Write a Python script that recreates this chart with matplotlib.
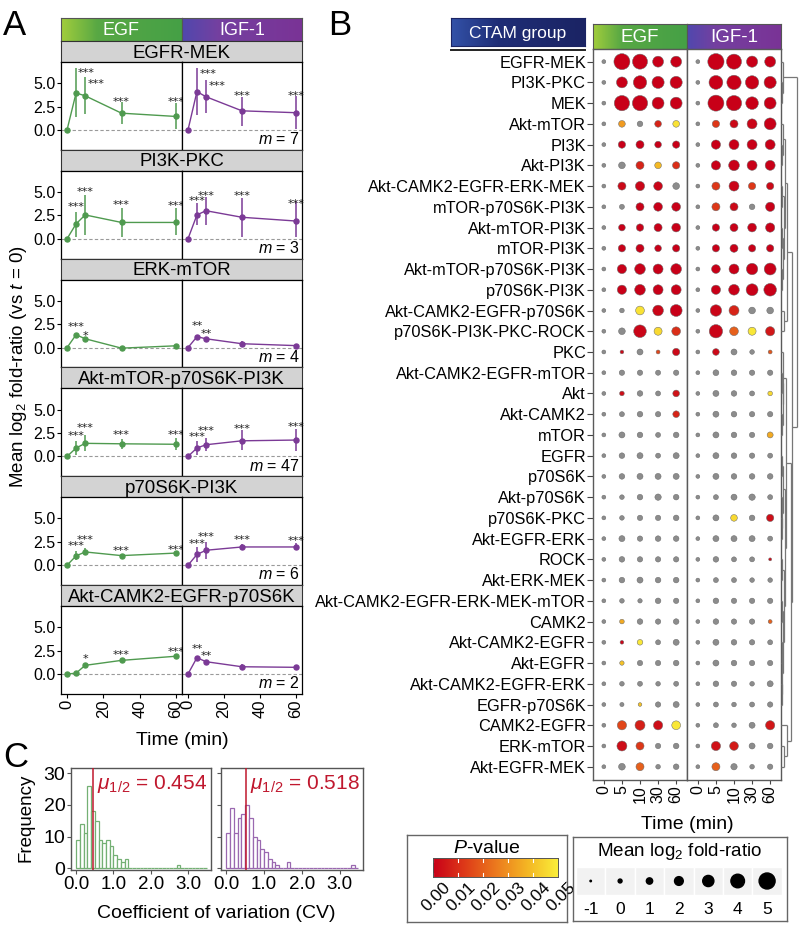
import numpy as np
import matplotlib
matplotlib.use("Agg")
import matplotlib.pyplot as plt
from matplotlib.colors import LinearSegmentedColormap
from matplotlib.patches import Rectangle

plt.rcParams['font.family'] = ['Liberation Sans', 'DejaVu Sans']
plt.rcParams['mathtext.fontset'] = 'custom'
plt.rcParams['mathtext.rm'] = 'Liberation Sans'
plt.rcParams['mathtext.it'] = 'Liberation Sans:italic'
plt.rcParams['mathtext.bf'] = 'Liberation Sans:bold'

# ======================= DATA =======================
time_points = [0, 5, 10, 30, 60]
time_labels = ["0", "5", "10", "30", "60"]
stimuli = ["EGF", "IGF-1"]

# ---- Panel A ----
groups_A = ["EGFR-MEK", "PI3K-PKC", "ERK-mTOR", "Akt-mTOR-p70S6K-PI3K",
            "p70S6K-PI3K", "Akt-CAMK2-EGFR-p70S6K"]
m_counts = [7, 3, 4, 47, 6, 2]

egf_mean = [[0, 3.95, 3.65, 1.80, 1.45],
            [0, 1.60, 2.55, 1.75, 1.75],
            [0, 1.38, 0.95, -0.05, 0.20],
            [0, 0.90, 1.40, 1.35, 1.30],
            [0, 1.00, 1.42, 1.03, 1.30],
            [0, 0.10, 0.93, 1.46, 1.90]]
egf_lo = [[0, 1.40, 1.70, 0.60, 0.15],
          [0, 0.25, 0.40, 0.20, 0.40],
          [0, 1.25, 0.80, -0.15, 0.10],
          [0, 0.20, 0.60, 0.80, 0.70],
          [0, 0.55, 1.05, 0.85, 1.10],
          [0, 0.00, 0.80, 1.35, 1.80]]
egf_hi = [[0, 6.60, 5.60, 3.00, 2.90],
          [0, 2.90, 4.70, 3.30, 3.30],
          [0, 1.50, 1.10, 0.05, 0.30],
          [0, 1.60, 2.25, 1.90, 1.95],
          [0, 1.50, 1.85, 1.20, 1.50],
          [0, 0.20, 1.05, 1.55, 2.00]]
egf_stars = [["", "***", "***", "***", "***"],
             ["", "***", "***", "***", "***"],
             ["", "***", "*", "", ""],
             ["", "***", "***", "***", "***"],
             ["", "***", "***", "***", "***"],
             ["", "", "*", "***", "***"]]
# height of the significance labels (log2 units)
egf_star_y = [[0, 6.40, 5.25, 3.33, 3.30],
              [0, 3.74, 5.35, 3.92, 3.85],
              [0, 2.60, 1.60, 0, 0],
              [0, 2.50, 3.40, 2.67, 2.67],
              [0, 2.43, 3.10, 1.90, 2.00],
              [0, 0, 1.95, 2.34, 2.66]]

igf_mean = [[0, 4.10, 3.55, 2.05, 1.85],
            [0, 2.55, 3.00, 2.30, 1.90],
            [0, 1.17, 0.95, 0.42, 0.22],
            [0, 0.90, 1.25, 1.67, 1.75],
            [0, 1.15, 1.60, 1.95, 1.95],
            [0, 1.75, 1.32, 0.78, 0.72]]
igf_lo = [[0, 1.60, 1.80, 0.45, 0.10],
          [0, 1.50, 1.50, 0.25, 0.25],
          [0, 1.05, 0.85, 0.15, 0.10],
          [0, 0.15, 0.55, 0.65, 0.55],
          [0, 0.35, 0.70, 1.60, 1.60],
          [0, 1.65, 1.20, 0.50, 0.45]]
igf_hi = [[0, 6.60, 5.30, 3.50, 3.60],
          [0, 3.85, 4.50, 4.40, 4.00],
          [0, 1.30, 1.05, 0.70, 0.35],
          [0, 1.60, 1.95, 2.85, 2.95],
          [0, 1.90, 2.50, 2.30, 2.35],
          [0, 1.85, 1.45, 1.05, 1.00]]
igf_stars = [["", "***", "***", "***", "***"],
             ["", "***", "***", "***", "***"],
             ["", "**", "**", "", ""],
             ["", "***", "***", "***", "***"],
             ["", "***", "***", "***", "***"],
             ["", "**", "**", "", ""]]
igf_star_y = [[0, 6.35, 5.06, 4.00, 3.98],
              [0, 4.40, 4.95, 4.95, 4.06],
              [0, 2.66, 1.84, 0, 0],
              [0, 2.43, 3.07, 3.28, 3.50],
              [0, 2.67, 3.35, 3.00, 2.96],
              [0, 3.05, 2.30, 0, 0]]

# ---- Panel B ----
rows_B = ["EGFR-MEK", "PI3K-PKC", "MEK", "Akt-mTOR", "PI3K", "Akt-PI3K",
          "Akt-CAMK2-EGFR-ERK-MEK", "mTOR-p70S6K-PI3K", "Akt-mTOR-PI3K", "mTOR-PI3K",
          "Akt-mTOR-p70S6K-PI3K", "p70S6K-PI3K", "Akt-CAMK2-EGFR-p70S6K",
          "p70S6K-PI3K-PKC-ROCK", "PKC", "Akt-CAMK2-EGFR-mTOR", "Akt", "Akt-CAMK2",
          "mTOR", "EGFR", "p70S6K", "Akt-p70S6K", "p70S6K-PKC", "Akt-EGFR-ERK", "ROCK",
          "Akt-ERK-MEK", "Akt-CAMK2-EGFR-ERK-MEK-mTOR", "CAMK2", "Akt-CAMK2-EGFR",
          "Akt-EGFR", "Akt-CAMK2-EGFR-ERK", "EGFR-p70S6K", "CAMK2-EGFR", "ERK-mTOR",
          "Akt-EGFR-MEK"]

# mean log2 fold-ratio, EGF (columns = 0, 5, 10, 30, 60 min)
egf_fc = [[0, 5.0, 4.6, 2.9, 2.9], [0, 2.9, 3.9, 3.4, 3.4], [0, 4.7, 4.7, 3.3, 3.3],
          [0, 1.15, 0.7, 1.15, 1.15], [0, 1.4, 1.7, 1.15, 1.4], [0, 1.15, 1.7, 1.15, 1.4],
          [0, 1.7, 2.2, 2.0, 1.15], [0, 0.45, 1.7, 2.0, 2.0], [0, 1.15, 1.4, 1.7, 2.0],
          [0, 1.4, 1.7, 1.15, 1.4], [0, 2.2, 2.8, 2.5, 2.8], [0, 2.2, 2.8, 2.5, 2.5],
          [0, 0.3, 2.0, 2.8, 3.3], [0, 1.15, 3.6, 1.7, 2.0], [0, -0.1, 0.86, 0.0, 1.4],
          [0, 0.6, 0.6, 0.5, 0.6], [0, 0.3, 0.7, 0.45, 1.15], [0, 0.45, 0.7, 0.6, 1.15],
          [0, 0.86, 0.7, 0.45, 0.7], [0, 0.7, 0.86, 0.45, 0.86], [0, 0.7, 0.86, 0.86, 0.86],
          [0, 0.3, 0.7, 1.0, 0.7], [0, 0.3, 0.6, 0.6, 0.7], [0, 0.86, 0.6, 0.7, 0.7],
          [0, 0.7, 0.6, 0.6, 0.6], [0, 0.7, 0.86, 0.7, 0.7], [0, 0.3, 0.2, 0.7, 0.6],
          [0, 0.3, 0.7, 0.6, 0.7], [0, -0.1, 0.7, 0.45, 0.86], [0, 0.2, 0.6, 0.6, 0.7],
          [0, 0.3, 0.45, 0.3, 0.45], [0, 0.1, -0.1, 0.6, 0.86], [0, 2.2, 2.5, 2.2, 2.0],
          [0, 2.5, 1.7, 0.6, 0.7], [0, 1.15, 1.7, 0.3, 0.7]]
# P-values, EGF (1 = not significant)
egf_p = [[1, 0, 0, 0, 0], [1, 0, 0, 0, 0], [1, 0, 0, 0, 0],
         [1, 0.032, 1, 0.008, 0.047], [1, 0, 0, 0, 0], [1, 1, 0.008, 0.038, 0.010],
         [1, 0.002, 0.001, 0.001, 1], [1, 1, 0, 0, 0], [1, 0, 0, 0, 0],
         [1, 0, 0, 0, 0], [1, 0, 0, 0, 0], [1, 0, 0, 0, 0],
         [1, 1, 0.047, 0.001, 0], [1, 1, 0.001, 0.045, 0.010], [1, 0.002, 1, 0.015, 0.002],
         [1, 1, 1, 1, 1], [1, 0.003, 1, 1, 0.004], [1, 1, 1, 1, 0.008],
         [1, 1, 1, 1, 1], [1, 1, 1, 1, 1], [1, 1, 1, 1, 1],
         [1, 1, 1, 1, 1], [1, 1, 1, 1, 1], [1, 1, 1, 1, 1],
         [1, 1, 1, 1, 1], [1, 1, 1, 1, 1], [1, 1, 1, 1, 1],
         [1, 0.035, 1, 1, 1], [1, 0.001, 0.048, 1, 1], [1, 0.040, 1, 1, 1],
         [1, 1, 1, 1, 1], [1, 1, 0.040, 1, 1], [1, 0.015, 0.007, 0.003, 0.048],
         [1, 0.003, 0.012, 1, 1], [1, 1, 0.020, 1, 1]]

igf_fc = [[0, 5.1, 4.6, 3.0, 2.9], [0, 4.1, 4.3, 3.9, 3.4], [0, 5.0, 4.7, 3.6, 3.3],
          [0, 1.4, 1.7, 2.5, 3.3], [0, 2.2, 2.5, 2.5, 2.5], [0, 2.2, 2.8, 2.5, 2.5],
          [0, 1.7, 2.5, 1.4, 1.4], [0, 1.7, 1.7, 0.7, 2.2], [0, 1.4, 1.7, 2.0, 2.2],
          [0, 1.4, 1.7, 1.4, 1.4], [0, 2.0, 2.5, 3.1, 3.3], [0, 2.2, 2.8, 3.3, 3.6],
          [0, 3.1, 2.5, 1.15, 1.15], [0, 3.9, 2.0, 1.7, 2.2], [0, 1.15, 0.86, 0.3, 0.0],
          [0, 0.8, 0.7, 0.6, 0.6], [0, 0.86, 0.7, 0.45, 0.3], [0, 0.86, 0.7, 0.6, 0.6],
          [0, 0.86, 0.7, 0.6, 0.86], [0, 0.86, 0.7, 0.6, 0.45], [0, 0.86, 0.7, 0.7, 0.7],
          [0, 0.45, 0.86, 1.0, 0.45], [0, 0.86, 1.15, 0.7, 1.4], [0, 0.86, 0.86, 0.86, 0.45],
          [0, 0.7, 0.45, 0.45, -0.4], [0, 0.45, 0.45, 0.3, 0.3], [0, 0.7, 0.6, 0.6, 0.6],
          [0, 0.7, 0.6, 0.6, 0.0], [0, 0.86, 0.7, 0.6, 0.45], [0, 0.86, 0.7, 0.6, 0.6],
          [0, 0.7, 0.6, 0.3, 0.86], [0, 0.45, 0.3, 0.45, 0.6], [0, 0.45, 0.3, 0.86, 2.2],
          [0, 2.2, 2.0, 0.86, 0.7], [0, 1.7, 1.0, 0.3, 0.6]]
igf_p = [[1, 0, 0, 0, 0], [1, 0, 0, 0, 0], [1, 0, 0, 0, 0],
         [1, 0.012, 0.002, 0.001, 0], [1, 0, 0, 0, 0], [1, 0, 0, 0, 0],
         [1, 0.012, 0.001, 0.012, 0.002], [1, 0.012, 0.002, 1, 0], [1, 0, 0, 0, 0],
         [1, 0, 0, 0, 0], [1, 0, 0, 0, 0], [1, 0, 0, 0, 0],
         [1, 0.001, 0.008, 1, 1], [1, 0.001, 0.020, 0.048, 0.005], [1, 0.002, 1, 1, 0.018],
         [1, 1, 1, 1, 1], [1, 1, 1, 1, 0.045], [1, 1, 1, 1, 1],
         [1, 1, 1, 1, 0.035], [1, 1, 1, 1, 1], [1, 1, 1, 1, 1],
         [1, 1, 1, 1, 1], [1, 1, 0.045, 1, 0.003], [1, 1, 1, 1, 1],
         [1, 1, 1, 1, 0.002], [1, 1, 1, 1, 1], [1, 1, 1, 1, 1],
         [1, 1, 1, 1, 0.020], [1, 1, 1, 1, 1], [1, 1, 1, 1, 1],
         [1, 1, 1, 1, 1], [1, 1, 1, 1, 1], [1, 1, 1, 1, 0.005],
         [1, 0.004, 0.006, 1, 1], [1, 0.020, 1, 1, 1]]

# row clustering (height, left, right); leaves = row index
dendro_tree = (1.0,
               (0.12, 0, (0.07, 1, 2)),
               (0.7,
                (0.38,
                 (0.22, (0.10, 3, (0.06, 4, 5)),
                  (0.16, (0.08, 6, 7), (0.10, (0.05, 8, 9), (0.07, 10, 11)))),
                 (0.20, 12, 13)),
                (0.6,
                 (0.30,
                  (0.14, 14, (0.10, (0.05, 15, 16), (0.06, 17, 18))),
                  (0.22, (0.12, (0.06, 19, 20), (0.08, 21, (0.05, 22, 23))),
                   (0.15, (0.07, 24, 25),
                    (0.10, (0.06, 26, 27), (0.08, (0.05, 28, 29), (0.06, 30, 31)))))),
                 (0.35, 32, (0.20, 33, 34)))))

pval_ticks = [0.00, 0.01, 0.02, 0.03, 0.04, 0.05]
size_legend_vals = [-1, 0, 1, 2, 3, 4, 5]

# ---- Panel C ----
cv_edges = [round(0.1 * k, 1) for k in range(36)]
egf_cv_counts = [9, 14, 11, 26, 18, 15, 9, 8, 9, 7, 4, 3, 2, 3, 0, 0, 0, 0,
                 0, 0, 0, 0, 0, 0, 0, 0, 0, 1, 0, 0, 0, 0, 0, 0, 0]
igf_cv_counts = [11, 19, 11, 16, 17, 20, 16, 10, 9, 6, 5, 3, 2, 1, 0, 0, 2, 0,
                 0, 0, 0, 0, 0, 0, 0, 0, 0, 0, 0, 0, 0, 0, 0, 1, 0]
cv_medians = [0.454, 0.518]

# ======================= FIGURE =======================
W, H = 799, 926
fig = plt.figure(figsize=(W / 100, H / 100), dpi=100)


def ax_px(x0, y0, x1, y1, **kw):
    return fig.add_axes([x0 / W, 1 - y1 / H, (x1 - x0) / W, (y1 - y0) / H], **kw)


def fx(x):
    return x / W


def fy(y):
    return 1 - y / H


def grad_box(x0, y0, x1, y1, stops, text, fs, edge='#555555'):
    ax = ax_px(x0, y0, x1, y1)
    cmap = LinearSegmentedColormap.from_list('g', stops)
    ax.imshow(np.linspace(0, 1, 256)[None, :], aspect='auto', cmap=cmap,
              extent=[0, 1, 0, 1])
    ax.set_xlim(0, 1)
    ax.set_ylim(0, 1)
    ax.set_xticks([])
    ax.set_yticks([])
    for sp in ax.spines.values():
        sp.set_color(edge)
        sp.set_linewidth(0.8)
    ax.text(0.5, 0.44, text, color='white', ha='center', va='center', fontsize=fs,
            transform=ax.transAxes)
    return ax


egf_grad = [(0, "#a2cd3c"), (0.3, "#58a844"), (1, "#45a046")]
igf_grad = [(0, "#5048ae"), (0.3, "#7440a0"), (1, "#7a3396")]
colE = "#4f9a4f"
colI = "#7b3a96"

# ---------------- Panel A ----------------
A_x0, A_xm, A_x1 = 61, 182, 302
A_top, A_strip, A_period = 41, 21, 108.8
# horizontal nudge (px) of some significance labels: (group, stimulus, time index)
star_nudge_px = {(0, 0, 1): 10, (0, 0, 2): 11, (0, 1, 1): 11, (0, 1, 2): 11}

grad_box(A_x0, 18, A_xm, A_top, egf_grad, "EGF", 13)
grad_box(A_xm, 18, A_x1, A_top, igf_grad, "IGF-1", 13)

for i, grp in enumerate(groups_A):
    st = A_top + i * A_period
    sax = ax_px(A_x0, st, A_x1, st + A_strip)
    sax.set_facecolor('#d3d3d3')
    sax.set_xticks([])
    sax.set_yticks([])
    for sp in sax.spines.values():
        sp.set_color('#333333')
        sp.set_linewidth(0.8)
    sax.text(0.5, 0.42, grp, ha='center', va='center', fontsize=13.4,
             transform=sax.transAxes)
    py0, py1 = st + A_strip, st + A_period
    series = [(egf_mean[i], egf_lo[i], egf_hi[i], egf_stars[i], egf_star_y[i], colE,
               A_x0, A_xm),
              (igf_mean[i], igf_lo[i], igf_hi[i], igf_stars[i], igf_star_y[i], colI,
               A_xm, A_x1)]
    for j, (mean, lo, hi, stars, sy, col, x0, x1) in enumerate(series):
        ax = ax_px(x0, py0, x1, py1)
        ax.axhline(0, color='#9a9a9a', ls=(0, (3, 2)), lw=0.8, zorder=1)
        ax.vlines(time_points, lo, hi, color=col, lw=1.1, zorder=2)
        ax.plot(time_points, mean, color=col, lw=1.0, marker='o', ms=3.6, zorder=3)
        for k, (t, yy, s) in enumerate(zip(time_points, sy, stars)):
            if s:
                dx = star_nudge_px.get((i, j, k), 0) * 0.72
                ax.annotate(s, (t, yy), xytext=(dx, -4.6), textcoords='offset points',
                            ha='center', va='baseline', fontsize=8.2,
                            family='DejaVu Sans', color='#222222')
        ax.set_xlim(-3.3, 63.3)
        ax.set_ylim(-2.1, 7.25)
        for sp in ax.spines.values():
            sp.set_color('black')
            sp.set_linewidth(0.9)
        ax.tick_params(length=3, width=0.8, labelsize=11.5, pad=1)
        if j == 0:
            ax.set_yticks([0, 2.5, 5.0])
            ax.set_yticklabels(["0.0", "2.5", "5.0"])
        else:
            ax.set_yticks([])
            ax.text(0.98, 0.03, "$m$ = %d" % m_counts[i], ha='right', va='bottom',
                    fontsize=11.5, transform=ax.transAxes)
        if i == len(groups_A) - 1:
            ax.set_xticks([0, 20, 40, 60])
            ax.set_xticklabels(["0", "20", "40", "60"], rotation=90, fontsize=12)
        else:
            ax.set_xticks([])

fig.text(fx(A_xm), fy(745), "Time (min)", ha='center', va='baseline', fontsize=14)
fig.text(fx(19), fy(367), "Mean log$_2$ fold-ratio (vs $t$ = 0)", rotation=90,
         ha='center', va='center', fontsize=13.5)

# ---------------- Panel B ----------------
B_x0, B_xm, B_x1 = 593, 687, 781
B_y0, B_y1 = 49, 780
nrow = len(rows_B)
cmap_p = LinearSegmentedColormap.from_list(
    'p', ["#c80018", "#de3a18", "#ec7a1e", "#f4b624", "#faf03a"])


def dot_diam_px(v):
    return max(1.2, 1.5 + (v + 1) / 6.0 * 14.5)


def dot_s(v):
    return (dot_diam_px(v) * 0.72) ** 2


grad_box(B_x0, 24, B_xm, B_y0, egf_grad, "EGF", 13.5)
grad_box(B_xm, 24, B_x1, B_y0, igf_grad, "IGF-1", 13.5)

grad_box(451, 18, 585, 46, [(0, "#3352a8"), (0.35, "#1f2d76"), (1, "#1b2464")],
         "CTAM group", 12.5, edge='#1b2464')
fig.add_artist(plt.Line2D([fx(451), fx(585)], [fy(50), fy(50)], color='#222222',
                          lw=1.4, transform=fig.transFigure))

for j, (fc, pv, x0, x1) in enumerate([(egf_fc, egf_p, B_x0, B_xm),
                                      (igf_fc, igf_p, B_xm, B_x1)]):
    ax = ax_px(x0, B_y0, x1, B_y1)
    xs, ys, ss, cs = [], [], [], []
    for r in range(nrow):
        for c in range(5):
            xs.append(c)
            ys.append(r)
            ss.append(dot_s(fc[r][c]))
            p = pv[r][c]
            cs.append(cmap_p(p / 0.05) if p < 0.05 else (0.55, 0.55, 0.55, 1))
    ax.scatter(xs, ys, s=ss, c=cs, edgecolors='#6a6a6a', linewidths=0.35, zorder=3)
    ax.set_xlim(-0.6, 4.6)
    ax.set_ylim(nrow - 1 + 0.64, -0.61)
    ax.set_xticks(range(5))
    ax.set_xticklabels(time_labels, rotation=90, fontsize=11.5)
    for sp in ax.spines.values():
        sp.set_color('#5a5a5a')
        sp.set_linewidth(1.0)
    ax.tick_params(axis='x', length=3, width=0.8, color='#444444', pad=1)
    if j == 0:
        ax.set_yticks(range(nrow))
        ax.set_yticklabels(rows_B, fontsize=11.8)
        ax.tick_params(axis='y', length=4, width=0.8, color='#444444', pad=1)
    else:
        ax.set_yticks([])

fig.text(fx(B_xm), fy(829), "Time (min)", ha='center', va='baseline', fontsize=14)

# dendrogram
dax = ax_px(B_x1, B_y0, 799, B_y1)
dax.set_ylim(nrow - 1 + 0.64, -0.61)
dax.set_xlim(-0.01, 1.12)
dax.axis('off')


def draw_tree(node):
    if isinstance(node, int):
        return float(node), 0.0
    h, left, right = node
    yl, hl = draw_tree(left)
    yr, hr = draw_tree(right)
    kw = dict(color='#777777', lw=0.9, solid_capstyle='butt')
    dax.plot([hl, h], [yl, yl], **kw)
    dax.plot([hr, h], [yr, yr], **kw)
    dax.plot([h, h], [yl, yr], **kw)
    return (yl + yr) / 2.0, h


draw_tree(dendro_tree)

# P-value legend
pbox = ax_px(407, 835, 567, 922)
pbox.set_xticks([])
pbox.set_yticks([])
pbox.patch.set_alpha(0)
for sp in pbox.spines.values():
    sp.set_color('#666666')
    sp.set_linewidth(1.0)
fig.text(fx(487), fy(853), "$P$-value", ha='center', va='baseline', fontsize=14)
cax = ax_px(433, 858, 558, 877)
cax.imshow(np.linspace(0, 1, 256)[None, :], aspect='auto', cmap=cmap_p,
           extent=[0, 0.05, 0, 1])
cax.set_xlim(0, 0.05)
cax.set_ylim(0, 1)
cax.set_xticks([])
cax.set_yticks([])
for sp in cax.spines.values():
    sp.set_color('#555555')
    sp.set_linewidth(0.7)
for t in pval_ticks:
    cax.plot([t, t], [0, 0.2], color='white', lw=0.8)
    cax.plot([t, t], [0.8, 1], color='white', lw=0.8)
    cax.annotate("%.2f" % t, (t, 0), xytext=(7, -2), textcoords='offset points',
                 ha='right', va='top', rotation=45, rotation_mode='anchor',
                 fontsize=12.5, annotation_clip=False)

# size legend
sbox = ax_px(573, 837, 787, 921)
sbox.set_xticks([])
sbox.set_yticks([])
sbox.patch.set_alpha(0)
for sp in sbox.spines.values():
    sp.set_color('#666666')
    sp.set_linewidth(1.0)
fig.text(fx(680), fy(856), "Mean log$_2$ fold-ratio", ha='center', va='baseline',
         fontsize=13.6)
kax = ax_px(576, 867, 576 + 29.4 * 7, 895)
kax.set_xlim(-0.5, 6.5)
kax.set_ylim(0, 1)
kax.axis('off')
for k, v in enumerate(size_legend_vals):
    kax.add_patch(Rectangle((k - 0.5, 0), 1, 1, facecolor='#f2f2f2', edgecolor='white',
                            lw=1.0))
kax.scatter(range(len(size_legend_vals)), [0.5] * len(size_legend_vals),
            s=[dot_s(v) for v in size_legend_vals], color='black', zorder=3)
for k, v in enumerate(size_legend_vals):
    x_fig = 576 + 29.4 * (k + 0.5)
    fig.text(fx(x_fig), fy(914), str(v), ha='center', va='baseline', fontsize=12.5)

# ---------------- Panel C ----------------
for idx, (counts, col, med, x0, x1) in enumerate(
        [(egf_cv_counts, "#74b074", cv_medians[0], 71, 211),
         (igf_cv_counts, "#9a68b0", cv_medians[1], 221, 363)]):
    ax = ax_px(x0, 768, x1, 870)
    ax.bar(cv_edges[:-1], counts, width=0.1, align='edge', facecolor='white',
           edgecolor=col, lw=0.9, zorder=2)
    ax.axvline(med, color='#c0182e', lw=1.1, zorder=3)
    ax.set_xlim(-0.14, 3.62)
    ax.set_ylim(-0.6, 31.7)
    ax.set_xticks([0, 1, 2, 3])
    ax.set_xticklabels(["0.0", "1.0", "2.0", "3.0"], fontsize=13.5)
    ax.set_yticks([0, 10, 20, 30])
    if idx == 0:
        ax.set_yticklabels(["0", "10", "20", "30"], fontsize=14)
    else:
        ax.set_yticklabels([])
    for sp in ax.spines.values():
        sp.set_color('#555555')
        sp.set_linewidth(1.0)
    ax.tick_params(length=3, width=0.8, color='#555555', pad=1)
    ax.text(0.975, 0.95, r"$\mu_{1/2}$ = %.3f" % med, ha='right', va='top',
            color='#c0182e', fontsize=15, transform=ax.transAxes)

fig.text(fx(26), fy(818), "Frequency", rotation=90, ha='center', va='center',
         fontsize=13.5)
fig.text(fx(216), fy(918), "Coefficient of variation (CV)", ha='center',
         va='baseline', fontsize=14)

# panel letters
fig.text(fx(3), fy(35), "A", fontsize=25, va='baseline', ha='left')
fig.text(fx(328), fy(35), "B", fontsize=25, va='baseline', ha='left')
fig.text(fx(3), fy(767), "C", fontsize=25, va='baseline', ha='left')

fig.savefig("out.png", dpi=100)
